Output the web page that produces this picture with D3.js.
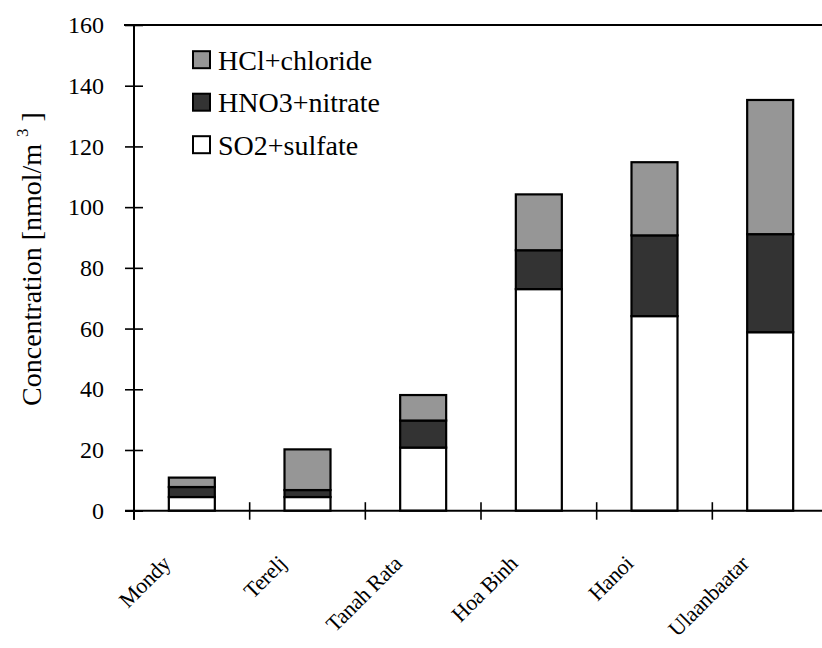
<!DOCTYPE html>
<html>
<head>
<meta charset="utf-8">
<script src="https://cdn.jsdelivr.net/npm/d3@7"></script>
<style>
  html, body { margin: 0; padding: 0; background: #fff; }
  svg { display: block; }
  svg text { font-family: "Liberation Serif", "Times New Roman", serif; fill: #000; }
</style>
</head>
<body>
<svg id="chart" width="822" height="648"></svg>
<script>
// Sites and stacked component concentrations (nmol/m3)
const sites = ["Mondy", "Terelj", "Tanah Rata", "Hoa Binh", "Hanoi", "Ulaanbaatar"];
const so2Sulfate = [4.5, 4.5, 20.8, 73.0, 64.1, 58.8];
const hno3Nitrate = [3.3, 2.3, 8.9, 12.8, 26.6, 32.3];
const hclChloride = [3.1, 13.4, 8.4, 18.4, 24.1, 44.2];
const yTicks = [0, 20, 40, 60, 80, 100, 120, 140, 160];

const seriesNames = ["SO2+sulfate", "HNO3+nitrate", "HCl+chloride"];
const seriesColors = ["#ffffff", "#333333", "#969696"];
const serif = "'Liberation Serif', 'Times New Roman', serif";

const rows = sites.map((s, i) => ({
  site: s,
  "SO2+sulfate": so2Sulfate[i],
  "HNO3+nitrate": hno3Nitrate[i],
  "HCl+chloride": hclChloride[i]
}));
const stacked = d3.stack().keys(seriesNames)(rows);

const svg = d3.select("#chart");
const x = d3.scaleBand().domain(sites).range([134, 828]).padding(0);
const y = d3.scaleLinear().domain([0, 160]).range([510.7, 25]);
const barW = 46;

// Stacked bars
const color = d3.scaleOrdinal().domain(seriesNames).range(seriesColors);
svg.append("g").selectAll("g")
  .data(stacked)
  .join("g")
  .attr("fill", d => color(d.key))
  .selectAll("rect")
  .data(d => d)
  .join("rect")
  .attr("x", d => x(d.data.site) + x.bandwidth() / 2 - barW / 2)
  .attr("width", barW)
  .attr("y", d => y(d[1]))
  .attr("height", d => y(d[0]) - y(d[1]))
  .attr("stroke", "#000")
  .attr("stroke-width", 2.2);

// Top frame line
svg.append("line")
  .attr("x1", 124).attr("x2", 828)
  .attr("y1", y(160)).attr("y2", y(160))
  .attr("stroke", "#000").attr("stroke-width", 2);

// Y axis with ticks crossing the axis line
const yAxis = svg.append("g")
  .attr("transform", "translate(134,0)")
  .call(d3.axisLeft(y).tickValues(yTicks).tickSize(9).tickSizeOuter(0))
  .attr("font-family", serif);
yAxis.select(".domain").remove();
yAxis.selectAll(".tick line").attr("x1", -9).attr("x2", 9).attr("stroke", "#000").attr("stroke-width", 1.6);
yAxis.selectAll(".tick text").attr("x", -30).attr("font-size", 24).attr("fill", "#000")
  .attr("font-family", serif);
svg.append("line")
  .attr("x1", 134).attr("x2", 134)
  .attr("y1", y(160)).attr("y2", y(0) + 9)
  .attr("stroke", "#000").attr("stroke-width", 2);

// X axis line and category boundary ticks
svg.append("line")
  .attr("x1", 125).attr("x2", 828)
  .attr("y1", y(0)).attr("y2", y(0))
  .attr("stroke", "#000").attr("stroke-width", 2);
const bounds = sites.map(s => x(s)).concat([x(sites[sites.length - 1]) + x.bandwidth()]);
svg.append("g").selectAll("line")
  .data(bounds)
  .join("line")
  .attr("x1", d => d).attr("x2", d => d)
  .attr("y1", y(0) - 8.5).attr("y2", y(0) + 9)
  .attr("stroke", "#000").attr("stroke-width", 1.6);

// Rotated category labels
svg.append("g").selectAll("text")
  .data(sites)
  .join("text")
  .attr("transform", d => `translate(${x(d) + x.bandwidth() / 2 - 20},565) rotate(-45)`)
  .attr("text-anchor", "end")
  .attr("font-family", serif)
  .attr("font-size", 22)
  .attr("letter-spacing", -0.3)
  .text(d => d);

// Y axis title with superscript unit
const title = svg.append("text")
  .attr("transform", "translate(41,259) rotate(-90)")
  .attr("text-anchor", "middle")
  .attr("font-family", serif)
  .attr("font-size", 28);
title.append("tspan").text("Concentration [nmol/m ");
title.append("tspan").attr("font-size", 17).attr("dy", -13).text("3");
title.append("tspan").attr("dy", 13).text(" ]");

// Legend
const legendItems = ["HCl+chloride", "HNO3+nitrate", "SO2+sulfate"];
const legendY = [59.7, 102.2, 144.7];
const lg = svg.append("g").selectAll("g")
  .data(legendItems)
  .join("g")
  .attr("transform", (d, i) => `translate(193,${legendY[i]})`);
lg.append("rect")
  .attr("x", 0).attr("y", -8.5)
  .attr("width", 17).attr("height", 17)
  .attr("fill", d => color(d))
  .attr("stroke", "#000").attr("stroke-width", 2);
lg.append("text")
  .attr("x", 25).attr("y", 10)
  .attr("font-family", serif)
  .attr("font-size", 28)
  .text(d => d);
</script>
</body>
</html>
